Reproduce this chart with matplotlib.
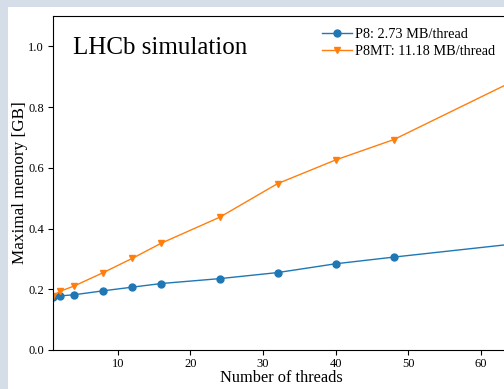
import matplotlib.pyplot as plt
from matplotlib.patches import Rectangle

# data
threads = [1, 2, 4, 8, 12, 16, 24, 32, 40, 48, 64]
mem_p8 = [0.176, 0.178, 0.182, 0.195, 0.207, 0.219, 0.235, 0.255, 0.284, 0.306, 0.348]
mem_p8mt = [0.178, 0.193, 0.211, 0.255, 0.302, 0.352, 0.437, 0.548, 0.626, 0.693, 0.880]
label_p8 = "P8: 2.73 MB/thread"
label_p8mt = "P8MT: 11.18 MB/thread"

plt.rcParams['font.family'] = ['Liberation Serif', 'DejaVu Serif']

W, H = 504, 389
fig = plt.figure(figsize=(W / 100, H / 100), dpi=100)
fig.patch.set_facecolor("#d5dde9")
# white page, cropped on right and bottom
fig.patches.append(Rectangle((8 / W, 0), 1, 1 - 7 / H, transform=fig.transFigure,
                             facecolor="white", edgecolor="none", zorder=-5))

ax = fig.add_axes([52.5 / W, 39 / H, (510 - 52.5) / W, 334 / H])
ax.set_facecolor("white")

ax.plot(threads, mem_p8, "-o", color="#1f77b4", lw=1.0, ms=5, label=label_p8)
ax.plot(threads, mem_p8mt, "-v", color="#ff7f0e", lw=1.0, ms=5, label=label_p8mt)

ax.set_xlim(1, 64)
ax.set_ylim(0, 1.1)
ax.set_xticks([10, 20, 30, 40, 50, 60])
ax.set_yticks([0.0, 0.2, 0.4, 0.6, 0.8, 1.0])
ax.tick_params(labelsize=9, length=3.5, width=0.8, pad=2.5)
for s in ax.spines.values():
    s.set_linewidth(0.8)

ax.set_xlabel("Number of threads", fontsize=11.8, labelpad=0)
ax.set_ylabel("Maximal memory [GB]", fontsize=12.3, labelpad=0)

ax.text(73 / W, 1 - 48 / H, "LHCb simulation", fontsize=18, va="center", ha="left",
        transform=fig.transFigure)

ax.legend(loc="upper left", bbox_to_anchor=(322 / W, 1 - 28 / H), bbox_transform=fig.transFigure,
          frameon=False, fontsize=10.3, handlelength=2.1, handletextpad=0.2,
          borderaxespad=0, borderpad=0, labelspacing=0.25)

fig.savefig("out.png", dpi=100, facecolor=fig.get_facecolor())
